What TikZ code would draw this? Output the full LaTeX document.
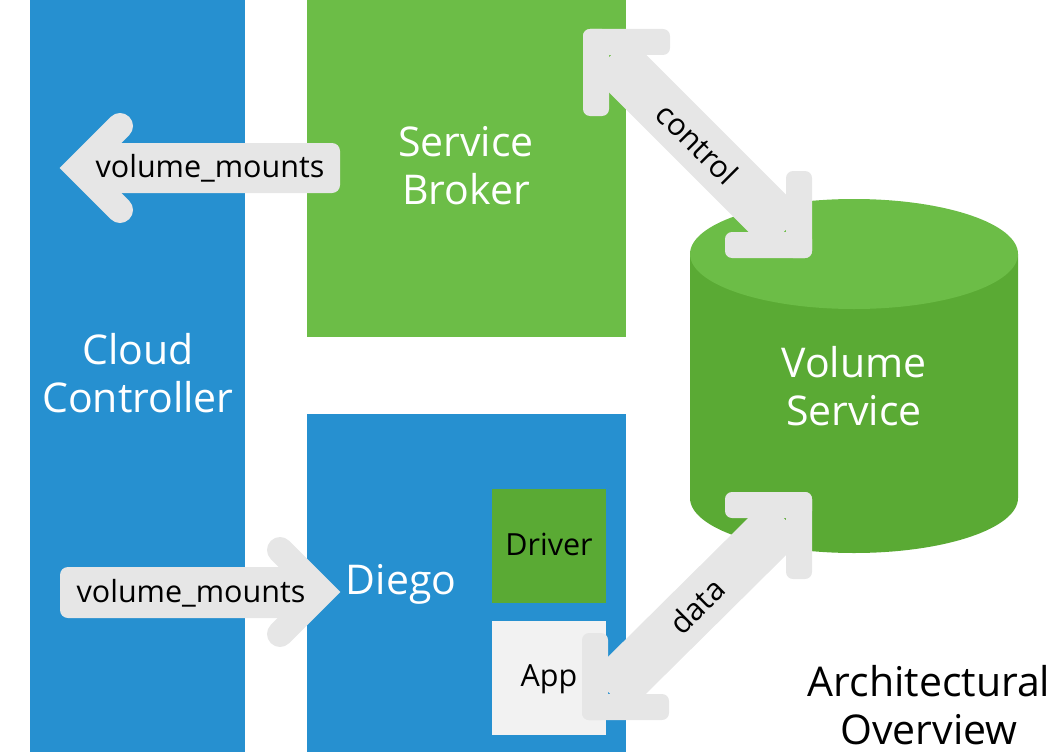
\documentclass[tikz,border=0pt]{standalone}
\usepackage{fontspec}
\setmainfont{Open Sans}
\definecolor{cfblue}{RGB}{38,144,208}
\definecolor{cfgreen}{RGB}{108,189,71}
\definecolor{cfdgreen}{RGB}{90,170,52}
\definecolor{arrowgray}{RGB}{230,230,230}
\definecolor{appgray}{RGB}{242,242,242}
\tikzset{
  panel/.style={draw=none, inner sep=0pt, outer sep=0pt, anchor=north west},
  bigtext/.style={text=white, font=\fontsize{41}{48}\selectfont, align=center, inner sep=0pt},
  smalltext/.style={text=black, font=\fontsize{30.5}{36}\selectfont, inner sep=0pt},
  shaft/.style={draw=arrowgray, line width=53pt, shorten <=20pt, shorten >=20pt},
  chevron/.style={draw=arrowgray, line width=26pt, line cap=round, line join=miter},
  tagbody/.style={fill=arrowgray, rounded corners=8pt},
  lhead/.pic={
    \fill[arrowgray, rounded corners=7pt] (-13,-13) rectangle (74,13);
    \fill[arrowgray, rounded corners=7pt] (-13,-13) rectangle (13,74);
  }
}
\begin{document}
\begin{tikzpicture}[x=1pt,y=-1pt]
\useasboundingbox (0,0) rectangle (1057,752);
% panels
\node[panel, fill=cfblue, minimum width=215pt, minimum height=752pt] (cc) at (30,0) {};
\node[panel, fill=cfgreen, minimum width=319pt, minimum height=337pt] (sb) at (307,0) {};
\node[panel, fill=cfblue, minimum width=319pt, minimum height=338pt] (diego) at (307,414) {};
\node[panel, fill=cfdgreen, minimum width=114pt, minimum height=114pt] (driver) at (492,489) {};
\node[panel, fill=appgray, minimum width=114pt, minimum height=114pt] (app) at (492,621) {};
% cylinder
\fill[cfdgreen] (690,254) -- (1018,254) -- (1018,498)
  arc[start angle=0, end angle=180, x radius=164, y radius=55] -- cycle;
\fill[cfgreen] (854,254) ellipse[x radius=164, y radius=55];
\coordinate (vs) at (854,386);
% texts
\node[bigtext] (cctext) at (138,373) {Cloud\\Controller};
\node[bigtext] (sbtext) at (466,166) {Service\\Broker};
\node[bigtext] (diegotext) at (401,584) {Diego};
\node[bigtext] (vstext) at (vs) {Volume\\Service};
\node[smalltext] (drivertext) at (549,544) {Driver};
\node[smalltext] (apptext) at (549,679) {App};
\node[text=black, font=\fontsize{41}{48}\selectfont, align=center, inner sep=0pt] (title) at (929,705) {Architectural\\Overview};
% volume_mounts (service broker -> cloud controller)
\coordinate (vm1tip) at (78,168);
\coordinate (vm1end) at (340,168);
\fill[tagbody] (90,143) rectangle (vm1end |- 0,193);
\draw[chevron] ([shift={(42,-42)}]vm1tip) -- (vm1tip) -- ([shift={(42,42)}]vm1tip);
\node[smalltext] (vm1) at (210,168) {volume\_mounts};
% volume_mounts (cloud controller -> diego)
\coordinate (vm2tip) at (322,592);
\coordinate (vm2start) at (60,592);
\fill[tagbody] (vm2start |- 0,567) rectangle (310,618);
\draw[chevron] ([shift={(-42,-42)}]vm2tip) -- (vm2tip) -- ([shift={(-42,42)}]vm2tip);
\node[smalltext] (vm2) at (191,593) {volume\_mounts};
% control
\coordinate (ca) at (596,42);
\coordinate (cb) at (799,245);
\draw[shaft] (ca) -- (cb) node[midway, sloped, smalltext] (ctl) {control};
\pic at (ca) {lhead};
\pic[xscale=-1, yscale=-1] at (cb) {lhead};
% data
\coordinate (da) at (799,505);
\coordinate (db) at (595,707);
\draw[shaft] (db) -- (da) node[midway, sloped, smalltext] (dat) {data};
\pic[xscale=-1] at (da) {lhead};
\pic[yscale=-1] at (db) {lhead};
\end{tikzpicture}
\end{document}
